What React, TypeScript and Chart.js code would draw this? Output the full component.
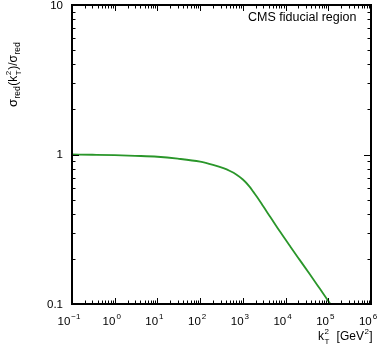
import React, { useEffect, useRef } from "react";
import { Chart, registerables } from "chart.js";

Chart.register(...registerables);

// Data
const kT2Values = [0.1, 0.3, 1, 3, 10, 30, 100, 200, 350, 500, 700, 1000, 1400, 1800, 2400, 3000, 4400, 7400, 13000, 22000, 37000, 65000, 107000, 120000];
const ratioValues = [1.0, 0.996, 0.99, 0.98, 0.966, 0.938, 0.895, 0.852, 0.81, 0.775, 0.735, 0.68, 0.615, 0.558, 0.497, 0.45, 0.382, 0.305, 0.2415, 0.195, 0.158, 0.1253, 0.102, 0.0977];

const xTickExponents = [-1, 0, 1, 2, 3, 4, 5, 6];
const yTickValues = [0.1, 1, 10];
const yTickLabels = ["0.1", "1", "10"];
const annotationText = "CMS fiducial region";

const FONT = "'Liberation Sans', Arial, Helvetica, sans-serif";

type Seg = { t: string; size: number; dy: number; stackWith?: Seg };

function drawRich(ctx: CanvasRenderingContext2D, segs: Seg[], x: number, y: number) {
  let cx = x;
  for (const s of segs) {
    ctx.font = `${s.size}px ${FONT}`;
    const w = ctx.measureText(s.t).width;
    ctx.fillText(s.t, cx, y + s.dy);
    let adv = w;
    if (s.stackWith) {
      ctx.font = `${s.stackWith.size}px ${FONT}`;
      const w2 = ctx.measureText(s.stackWith.t).width;
      ctx.fillText(s.stackWith.t, cx, y + s.stackWith.dy);
      adv = Math.max(w, w2);
    }
    cx += adv + 0.5;
  }
}

const framePlugin = {
  id: "rootFrame",
  afterDraw(chart: any) {
    const ctx: CanvasRenderingContext2D = chart.ctx;
    const { left, right, top, bottom } = chart.chartArea;
    const xs = chart.scales.x;
    const ys = chart.scales.y;
    ctx.save();
    ctx.fillStyle = "#000";
    // frame (about 2px wide)
    const fw = 2;
    ctx.fillRect(left - 1, top - 1, right - left + 2, fw);
    ctx.fillRect(left - 1, bottom - 1, right - left + 2, fw);
    ctx.fillRect(left - 1, top - 1, fw, bottom - top + 2);
    ctx.fillRect(right - 1, top - 1, fw, bottom - top + 2);
    // ticks
    const major = 6, minor = 3.5;
    for (let e = -1; e <= 6; e++) {
      for (let m = 1; m <= 9; m++) {
        const v = m * Math.pow(10, e);
        if (v > 1e6 * 1.0001) continue;
        const px = Math.round(xs.getPixelForValue(v));
        const len = m === 1 ? major : minor;
        ctx.fillRect(px, bottom - len, 1, len);
        ctx.fillRect(px, top, 1, len);
      }
    }
    for (let e = -1; e <= 1; e++) {
      for (let m = 1; m <= 9; m++) {
        const v = m * Math.pow(10, e);
        if (v > 10 * 1.0001) continue;
        const py = Math.round(ys.getPixelForValue(v));
        const len = m === 1 ? major + 1 : minor;
        ctx.fillRect(left, py, len, 1);
        ctx.fillRect(right - len, py, len, 1);
      }
    }

    // y labels
    ctx.textBaseline = "middle";
    ctx.textAlign = "right";
    ctx.font = `11.5px ${FONT}`;
    yTickValues.forEach((v, i) => {
      const py = ys.getPixelForValue(v);
      ctx.fillText(yTickLabels[i], 63, py + 0.5);
    });

    // x labels 10^n
    ctx.textAlign = "left";
    ctx.textBaseline = "alphabetic";
    xTickExponents.forEach((e) => {
      const px = xs.getPixelForValue(Math.pow(10, e));
      ctx.font = `11.5px ${FONT}`;
      const wb = ctx.measureText("10").width;
      const expStr = e < 0 ? "\u2212" + Math.abs(e) : String(e);
      ctx.font = `8px ${FONT}`;
      const we = ctx.measureText(expStr).width;
      const total = wb + 1 + we;
      const x0 = px - total / 2 - 3;
      ctx.font = `11.5px ${FONT}`;
      ctx.fillText("10", x0, 325);
      ctx.font = `8px ${FONT}`;
      ctx.fillText(expStr, x0 + wb + 1, 319);
    });

    // x title: k_T^2 [GeV^2]
    drawRich(
      ctx,
      [
        { t: "k", size: 12, dy: 0 },
        { t: "2", size: 8, dy: -6, stackWith: { t: "T", size: 8, dy: 4 } },
        { t: "  [GeV", size: 12, dy: 0 },
        { t: "2", size: 8, dy: -6 },
        { t: "]", size: 12, dy: 0 },
      ],
      318,
      340
    );

    // y title rotated
    ctx.save();
    ctx.translate(17, 107);
    ctx.rotate(-Math.PI / 2);
    drawRich(
      ctx,
      [
        { t: "\u03c3", size: 13, dy: 0 },
        { t: "red", size: 8.5, dy: 3 },
        { t: "(k", size: 12, dy: 0 },
        { t: "2", size: 8, dy: -6, stackWith: { t: "T", size: 8, dy: 4 } },
        { t: ")/\u03c3", size: 12, dy: 0 },
        { t: "red", size: 8.5, dy: 3 },
      ],
      0,
      0
    );
    ctx.restore();

    // annotation
    ctx.font = `12.5px ${FONT}`;
    ctx.textAlign = "left";
    ctx.fillText(annotationText, 248, 21);
    ctx.restore();
  },
};

export default function App() {
  const ref = useRef<HTMLCanvasElement | null>(null);
  useEffect(() => {
    document.body.style.margin = "0";
    document.body.style.background = "#fff";
    const canvas = ref.current!;
    const chart = new Chart(canvas, {
      type: "line",
      data: {
        datasets: [
          {
            data: kT2Values.map((x, i) => ({ x, y: ratioValues[i] })),
            borderColor: "#2a962a",
            borderWidth: 1.8,
            pointRadius: 0,
            fill: false,
            cubicInterpolationMode: "monotone",
          },
        ],
      },
      options: {
        responsive: false,
        animation: false,
        events: [],
        layout: { padding: { left: 72, right: 11, top: 5, bottom: 43 } },
        plugins: { legend: { display: false }, tooltip: { enabled: false } },
        scales: {
          x: { type: "logarithmic", min: 0.1, max: 1e6, display: false },
          y: { type: "logarithmic", min: 0.1, max: 10, display: false },
        },
      },
      plugins: [framePlugin],
    });
    return () => chart.destroy();
  }, []);
  return <canvas ref={ref} width={382} height={347} style={{ display: "block" }} />;
}
